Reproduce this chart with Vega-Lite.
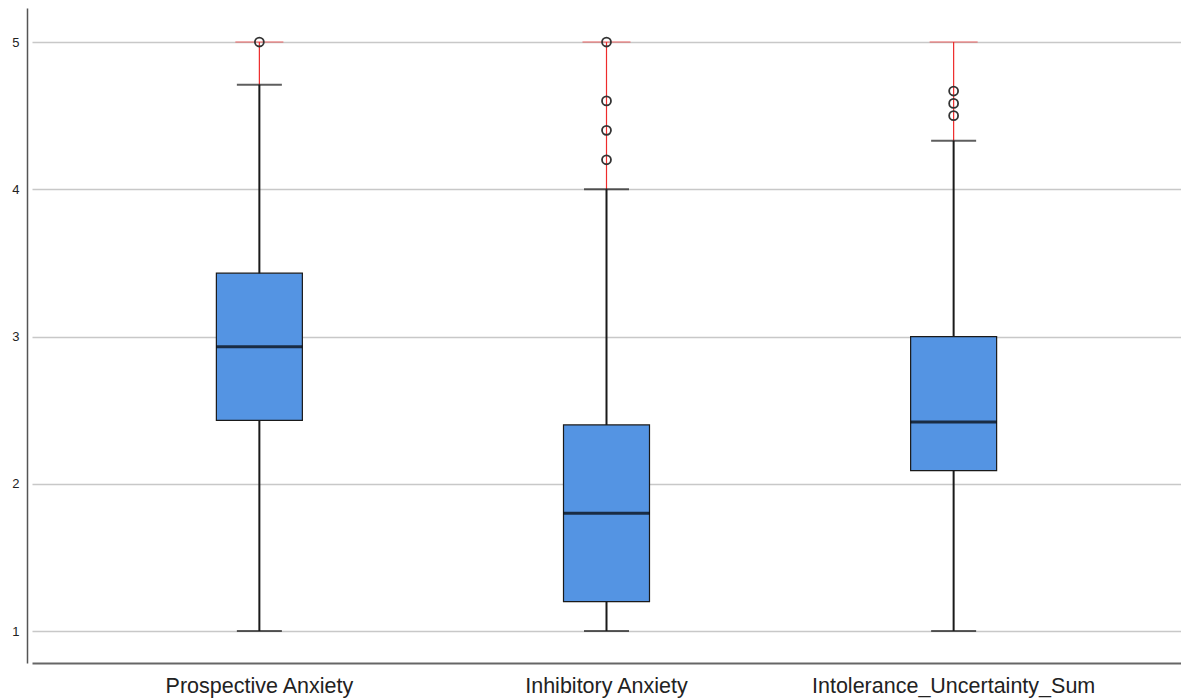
{
  "$schema": "https://vega.github.io/schema/vega-lite/v6.json",
  "autosize": {"type": "none"},
  "padding": {"left": 27, "top": 8, "right": 0, "bottom": 36},
  "width": 1154,
  "height": 655,
  "background": "white",
  "config": {
    "font": "Liberation Sans",
    "view": {"stroke": null}
  },
  "datasets": {
    "boxes": [
      {"variable": "Prospective Anxiety", "lower": 1.0, "q1": 2.43, "median": 2.93, "q3": 3.43, "upper": 4.71, "max": 5.0},
      {"variable": "Inhibitory Anxiety", "lower": 1.0, "q1": 1.2, "median": 1.8, "q3": 2.4, "upper": 4.0, "max": 5.0},
      {"variable": "Intolerance_Uncertainty_Sum", "lower": 1.0, "q1": 2.09, "median": 2.42, "q3": 3.0, "upper": 4.33, "max": 5.0}
    ],
    "outliers": [
      {"variable": "Prospective Anxiety", "value": 5.0},
      {"variable": "Inhibitory Anxiety", "value": 5.0},
      {"variable": "Inhibitory Anxiety", "value": 4.6},
      {"variable": "Inhibitory Anxiety", "value": 4.4},
      {"variable": "Inhibitory Anxiety", "value": 4.2},
      {"variable": "Intolerance_Uncertainty_Sum", "value": 4.667},
      {"variable": "Intolerance_Uncertainty_Sum", "value": 4.583},
      {"variable": "Intolerance_Uncertainty_Sum", "value": 4.5}
    ]
  },
  "data": {"name": "boxes"},
  "encoding": {
    "x": {
      "field": "variable",
      "type": "nominal",
      "sort": null,
      "scale": {"paddingInner": 0, "paddingOuter": 0.155, "range": [5, 1154]},
      "axis": {
        "title": null,
        "labelAngle": 0,
        "labelFontSize": 21.5,
        "labelColor": "#222222",
        "labelPadding": 12,
        "labelLimit": 0,
        "ticks": false,
        "domainColor": "#666666",
        "domainWidth": 2,
        "grid": false
      }
    }
  },
  "layer": [
    {
      "mark": {"type": "rule", "color": "#ee2b2b", "strokeWidth": 1.2},
      "encoding": {
        "y": {
          "field": "upper",
          "type": "quantitative",
          "scale": {"domain": [0.783, 5.231], "nice": false, "zero": false},
          "axis": {
            "title": null,
            "values": [1, 2, 3, 4, 5],
            "format": "d",
            "labelFontSize": 13,
            "labelColor": "#222222",
            "labelPadding": 8,
            "ticks": false,
            "domainColor": "#555555",
            "domainWidth": 1.5,
            "grid": true,
            "gridColor": "#c8c8c8",
            "gridWidth": 1.5
          }
        },
        "y2": {"field": "max"}
      }
    },
    {
      "mark": {"type": "tick", "color": "#ee2b2b", "size": 48, "thickness": 1.2},
      "encoding": {"y": {"field": "max", "type": "quantitative"}}
    },
    {
      "mark": {"type": "rule", "color": "#1a1a1a", "strokeWidth": 2},
      "encoding": {
        "y": {"field": "lower", "type": "quantitative"},
        "y2": {"field": "upper"}
      }
    },
    {
      "mark": {"type": "tick", "color": "#1a1a1a", "size": 45, "thickness": 2},
      "encoding": {"y": {"field": "lower", "type": "quantitative"}}
    },
    {
      "mark": {"type": "tick", "color": "#1a1a1a", "size": 45, "thickness": 2},
      "encoding": {"y": {"field": "upper", "type": "quantitative"}}
    },
    {
      "mark": {"type": "bar", "size": 86, "fill": "#5494e3", "stroke": "#1a1a1a", "strokeWidth": 1.2},
      "encoding": {
        "y": {"field": "q1", "type": "quantitative"},
        "y2": {"field": "q3"}
      }
    },
    {
      "mark": {"type": "tick", "color": "#000000", "size": 86, "thickness": 3},
      "encoding": {"y": {"field": "median", "type": "quantitative"}}
    },
    {
      "data": {"name": "outliers"},
      "mark": {"type": "point", "shape": "circle", "filled": false, "size": 80, "stroke": "#333333", "strokeWidth": 1.8, "opacity": 1},
      "encoding": {"y": {"field": "value", "type": "quantitative"}}
    }
  ]
}
